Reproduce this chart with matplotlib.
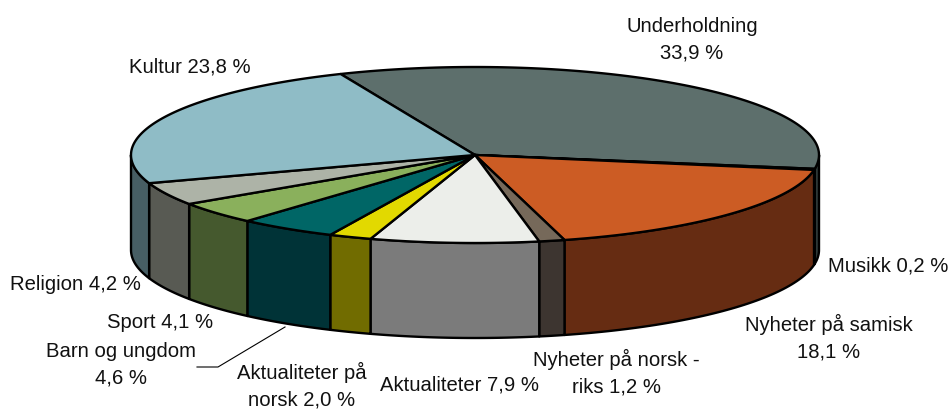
#!/usr/bin/env python3
# plot.py - 3D looking pie, drawn by hand since matplotlib has no such pie
import numpy as np
import matplotlib
matplotlib.use("Agg")
import matplotlib.pyplot as plt
from matplotlib.patches import Polygon

plt.rcParams['font.family'] = ['Liberation Sans', 'DejaVu Sans']

categories = ["Underholdning", "Musikk", "Nyheter på samisk", "Nyheter på norsk - riks",
              "Aktualiteter", "Aktualiteter på norsk", "Barn og ungdom", "Sport",
              "Religion", "Kultur"]
values = [33.9, 0.2, 18.1, 1.2, 7.9, 2.0, 4.6, 4.1, 4.2, 23.8]
top_colors = ["#5D6F6C", "#1C2C2C", "#CC5C24", "#76695A", "#ECEEEA",
              "#E2D900", "#006666", "#8AB05C", "#ADB3A7", "#8FBCC6"]
side_colors = ["#2E3836", "#0A1010", "#662C12", "#3D3530", "#7B7B7B",
               "#716C00", "#003337", "#45592E", "#585A53", "#475E64"]

# label text, with line breaks where the chart has them
label_lines = ["{}\n{}", "{} {}", "{}\n{}", "Nyheter på norsk -\nriks {}", "{} {}",
               "Aktualiteter på\nnorsk {}", "{}\n{}", "{} {}", "{} {}", "{} {}"]
label_xy = [(692, 40), (888, 266), (829, 338), (616, 373), (459, 385),
            (302, 386), (121, 365), (160, 323), (75, 285), (190, 67)]

# pie geometry in pixels
CX, CY = 475, 155
RX, RY = 344, 88
DEPTH = 95
START = 113.0


def rim(t_deg, dy=0):
    t = np.radians(t_deg)
    return np.column_stack([CX + RX * np.cos(t), CY - RY * np.sin(t) + dy])


fig = plt.figure(figsize=(9.51, 4.09), dpi=100)
ax = fig.add_axes([0, 0, 1, 1])
ax.set_xlim(0, 951)
ax.set_ylim(409, 0)
ax.axis("off")

edges = START - np.cumsum([0] + values) * 3.6

# sides first, only the part of the rim facing us
for i in range(len(values)):
    hi, lo = edges[i], edges[i + 1]
    for shift in (0, -360):
        a = max(lo + shift, -180)
        b = min(hi + shift, 0)
        if b <= a:
            continue
        ts = np.linspace(a, b, 60)
        pts = np.vstack([rim(ts), rim(ts[::-1], DEPTH)])
        ax.add_patch(Polygon(pts, closed=True, fc=side_colors[i], ec="black", lw=1.7, joinstyle="round"))

# then the top face
for i in range(len(values)):
    ts = np.linspace(edges[i], edges[i + 1], 120)
    pts = np.vstack([[CX, CY], rim(ts)])
    ax.add_patch(Polygon(pts, closed=True, fc=top_colors[i], ec="black", lw=1.7, joinstyle="round"))

for i, name in enumerate(categories):
    val = f"{values[i]:.1f}".replace(".", ",") + " %"
    tmpl = label_lines[i]
    txt = tmpl.format(val) if tmpl.count("{}") == 1 else tmpl.format(name, val)
    ax.text(label_xy[i][0], label_xy[i][1], txt, ha="center", va="center",
            fontsize=14.6, color="#111111", linespacing=1.52)

# leader line for Barn og ungdom
ax.plot([285, 218, 197], [327, 367, 367], color="black", lw=0.8)

fig.savefig("out.png", dpi=100)
